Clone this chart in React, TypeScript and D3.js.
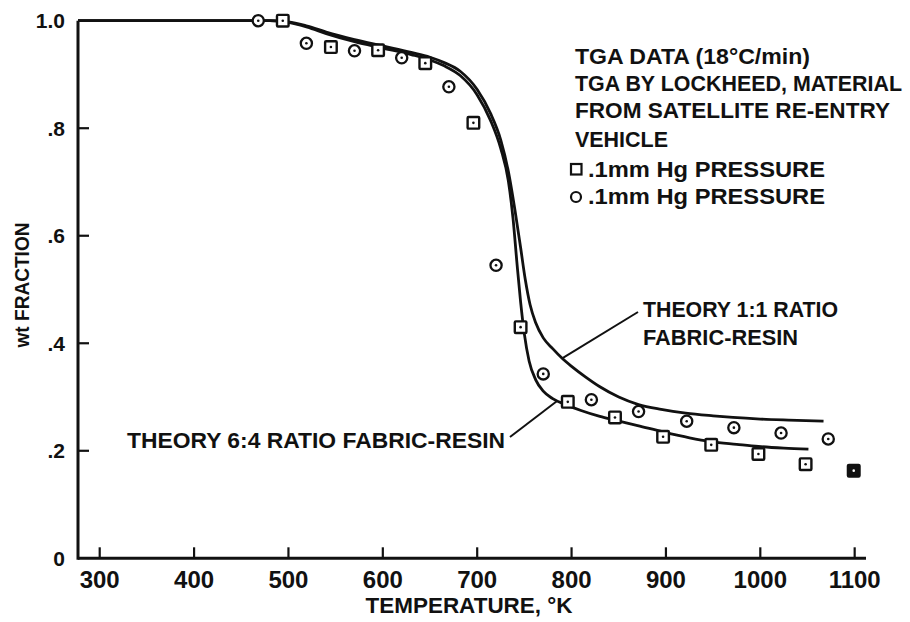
import React from "react";
import * as d3 from "d3";

// Measured TGA points: [temperature °K, weight fraction]
const squarePoints: [number, number][] = [
  [494, 1.0], [545, 0.951], [595, 0.945], [645, 0.921], [696, 0.81],
  [746, 0.43], [796, 0.291], [846, 0.262], [897, 0.226], [948, 0.211],
  [998, 0.194], [1048, 0.175], [1099, 0.163],
];
const circlePoints: [number, number][] = [
  [468, 1.0], [519, 0.958], [570, 0.944], [620, 0.931], [670, 0.877],
  [720, 0.545], [770, 0.343], [821, 0.295], [871, 0.273], [922, 0.255],
  [972, 0.243], [1022, 0.233], [1072, 0.222],
];

// Theory curves
const theory11: [number, number][] = [
  [277, 1.0], [480, 1.0], [500, 0.998], [520, 0.99], [540, 0.979], [570, 0.965],
  [600, 0.953], [630, 0.941], [650, 0.932], [665, 0.922], [682, 0.906],
  [700, 0.872], [714, 0.828], [725, 0.778], [733, 0.72], [740, 0.648],
  [746, 0.578], [751, 0.518], [756, 0.472], [762, 0.438], [770, 0.41],
  [780, 0.39], [790, 0.372], [800, 0.357], [815, 0.337], [830, 0.319],
  [850, 0.3], [871, 0.286], [895, 0.277], [921, 0.27], [950, 0.265],
  [971, 0.262], [1000, 0.259], [1030, 0.257], [1067, 0.255],
];
const theory64: [number, number][] = [
  [277, 1.0], [480, 1.0], [500, 0.997], [520, 0.988], [540, 0.976], [570, 0.961],
  [600, 0.949], [630, 0.937], [650, 0.927], [665, 0.916], [682, 0.898],
  [700, 0.862], [714, 0.815], [725, 0.762], [733, 0.702], [738, 0.632],
  [742, 0.552], [746, 0.477], [750, 0.417], [755, 0.367], [762, 0.332],
  [770, 0.311], [780, 0.297], [795, 0.285], [810, 0.275], [830, 0.264],
  [846, 0.257], [870, 0.247], [897, 0.235], [925, 0.224], [948, 0.217],
  [975, 0.212], [998, 0.208], [1025, 0.205], [1051, 0.203],
];

const xTicks = [300, 400, 500, 600, 700, 800, 900, 1000, 1100];
const yTicks = [0, 0.2, 0.4, 0.6, 0.8, 1.0];
const yTickLabels = ["0", ".2", ".4", ".6", ".8", "1.0"];

const notesLines = [
  "TGA DATA (18°C/min)",
  "TGA BY LOCKHEED, MATERIAL",
  "FROM SATELLITE RE-ENTRY",
  "VEHICLE",
];
const legendLabels = [".1mm Hg PRESSURE", ".1mm Hg PRESSURE"];

const FONT = "'Liberation Sans', Arial, sans-serif";
const INK = "#111";

export default function App() {
  const x = d3.scaleLinear().domain([277, 1112]).range([78, 866]);
  const y = d3.scaleLinear().domain([0, 1]).range([558.3, 20.7]);

  const line = d3
    .line<[number, number]>()
    .x((d) => x(d[0]))
    .y((d) => y(d[1]))
    .curve(d3.curveMonotoneX);

  const interp = (curve: [number, number][], t: number) => {
    const i = d3.bisector((d: [number, number]) => d[0]).left(curve, t);
    const a = curve[Math.max(0, i - 1)];
    const b = curve[Math.min(curve.length - 1, i)];
    if (a[0] === b[0]) return a[1];
    return a[1] + ((b[1] - a[1]) * (t - a[0])) / (b[0] - a[0]);
  };

  const lead64 = { t: 785 };
  const lead11 = { t: 790 };

  const notesBaselines = [64, 91, 118, 147];
  const notesWidths = [235, 327, 315, 93];

  return (
    <svg
      width={910}
      height={622}
      style={{ position: "absolute", left: 0, top: 0, background: "#fff" }}
      fontFamily={FONT}
      fontWeight={700}
      fill={INK}
    >
      {/* axes */}
      <line x1={x(277)} x2={x(1112)} y1={y(0)} y2={y(0)} stroke={INK} strokeWidth={3} />
      <line x1={x(277)} x2={x(277)} y1={y(0) + 1.5} y2={y(1)} stroke={INK} strokeWidth={3} />

      {xTicks.map((t) => (
        <g key={"xt" + t}>
          <line x1={x(t)} x2={x(t)} y1={y(0)} y2={y(0) - 11} stroke={INK} strokeWidth={2.2} />
          <text x={x(t)} y={588} textAnchor="middle" fontSize={24}>
            {t}
          </text>
        </g>
      ))}
      {yTicks.map((v, i) => (
        <g key={"yt" + v}>
          {v > 0 && v < 1 && (
            <line x1={x(277)} x2={x(277) + 11} y1={y(v)} y2={y(v)} stroke={INK} strokeWidth={2.2} />
          )}
          <text x={65} y={y(v) + 7.5} textAnchor="end" fontSize={21}>
            {yTickLabels[i]}
          </text>
        </g>
      ))}

      <text x={469} y={613} textAnchor="middle" fontSize={22} textLength={207} lengthAdjust="spacingAndGlyphs">
        TEMPERATURE, °K
      </text>
      <text
        transform={`translate(29, 285) rotate(-90)`}
        textAnchor="middle"
        fontSize={21}
        textLength={125}
        lengthAdjust="spacingAndGlyphs"
      >
        wt FRACTION
      </text>

      {/* theory curves */}
      <path d={line(theory11) || ""} fill="none" stroke={INK} strokeWidth={2.8} />
      <path d={line(theory64) || ""} fill="none" stroke={INK} strokeWidth={2.8} />

      {/* annotations */}
      <text x={643} y={317} fontSize={22} textLength={195} lengthAdjust="spacingAndGlyphs">
        THEORY 1:1 RATIO
      </text>
      <text x={643} y={345} fontSize={22} textLength={155} lengthAdjust="spacingAndGlyphs">
        FABRIC-RESIN
      </text>
      <line
        x1={638}
        y1={312}
        x2={x(lead11.t)}
        y2={y(interp(theory11, lead11.t))}
        stroke={INK}
        strokeWidth={2}
      />
      <text x={127} y={448} fontSize={22} textLength={378} lengthAdjust="spacingAndGlyphs">
        THEORY 6:4 RATIO FABRIC-RESIN
      </text>
      <line
        x1={510}
        y1={437}
        x2={x(lead64.t)}
        y2={y(interp(theory64, lead64.t))}
        stroke={INK}
        strokeWidth={2}
      />

      {/* data markers */}
      {circlePoints.map(([t, v]) => (
        <g key={"c" + t}>
          <circle cx={x(t)} cy={y(v)} r={5.6} fill="#fff" stroke={INK} strokeWidth={2.3} />
          <circle cx={x(t)} cy={y(v)} r={1.3} fill={INK} />
        </g>
      ))}
      {squarePoints.map(([t, v], i) => {
        const last = i === squarePoints.length - 1;
        return (
          <g key={"s" + t}>
            <rect
              x={x(t) - 5.8}
              y={y(v) - 5.8}
              width={11.6}
              height={11.6}
              fill={last ? INK : "#fff"}
              stroke={INK}
              strokeWidth={2.4}
              rx={1}
            />
            <circle cx={x(t)} cy={y(v)} r={1.3} fill={last ? "#fff" : INK} />
          </g>
        );
      })}

      {/* notes and legend */}
      {notesLines.map((s, i) => (
        <text
          key={"n" + i}
          x={575}
          y={notesBaselines[i]}
          fontSize={22}
          textLength={notesWidths[i]}
          lengthAdjust="spacingAndGlyphs"
        >
          {s}
        </text>
      ))}
      <rect x={571} y={164} width={10.5} height={10.5} fill="#fff" stroke={INK} strokeWidth={2.2} />
      <circle cx={576} cy={197} r={5} fill="#fff" stroke={INK} strokeWidth={2.2} />
      {legendLabels.map((s, i) => (
        <text
          key={"l" + i}
          x={588}
          y={177 + i * 27}
          fontSize={22}
          textLength={237}
          lengthAdjust="spacingAndGlyphs"
        >
          {s}
        </text>
      ))}
    </svg>
  );
}
